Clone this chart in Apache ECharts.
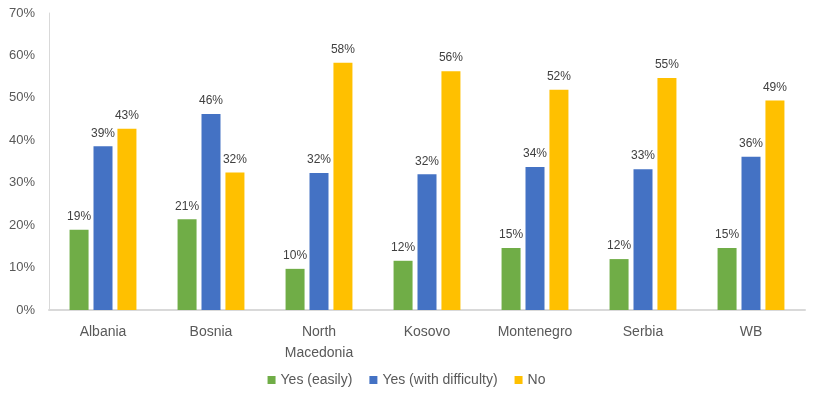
<!DOCTYPE html>
<html><head><meta charset="utf-8">
<script src="https://cdn.jsdelivr.net/npm/echarts@6/dist/echarts.min.js"></script>
<style>html,body{margin:0;padding:0;background:#fff}#c{width:813px;height:395px}</style>
</head><body><div id="c"></div>
<script>
const categories = ['Albania','Bosnia','North\nMacedonia','Kosovo','Montenegro','Serbia','WB'];
const yesEasily = [18.9, 21.4, 9.7, 11.6, 14.6, 12.0, 14.6];
const yesDifficulty = [38.6, 46.2, 32.3, 32.0, 33.7, 33.2, 36.1];
const no = [42.7, 32.4, 58.3, 56.3, 51.9, 54.7, 49.4];
const seriesNames = ['Yes (easily)','Yes (with difficulty)','No'];
const colors = ['#70ad47','#4472c4','#ffc000'];
const font = 'Liberation Sans, Arial, sans-serif';

const chart = echarts.init(document.getElementById('c'));
const mk = (name, data, color) => ({
  name, type:'bar', data, barWidth:19, barGap:'26%',
  itemStyle:{color},
  label:{show:true, position:'top', distance:7, color:'#404040', fontSize:12, fontFamily:font,
    formatter:p=>Math.round(p.value)+'%'}
});
chart.setOption({
  animation:false,
  color:colors,
  grid:{left:49,right:8,top:13,bottom:85,containLabel:false},
  legend:{bottom:3,left:'center',itemWidth:8,itemHeight:8,itemGap:17,icon:'rect',
    textStyle:{color:'#595959',fontSize:14,fontFamily:font}},
  xAxis:{type:'category',data:categories,
    axisLine:{lineStyle:{color:'#d9d9d9',width:2}},axisTick:{show:false},
    axisLabel:{color:'#595959',fontSize:14,fontFamily:font,margin:12,lineHeight:21}},
  yAxis:{type:'value',min:0,max:70,interval:10,
    axisLine:{show:true,lineStyle:{color:'#d9d9d9'}},splitLine:{show:false},axisTick:{show:false},
    axisLabel:{color:'#595959',fontSize:13,fontFamily:font,margin:14,formatter:v=>v+'%'}},
  series:[mk(seriesNames[0],yesEasily,colors[0]),mk(seriesNames[1],yesDifficulty,colors[1]),mk(seriesNames[2],no,colors[2])]
});
</script></body></html>
